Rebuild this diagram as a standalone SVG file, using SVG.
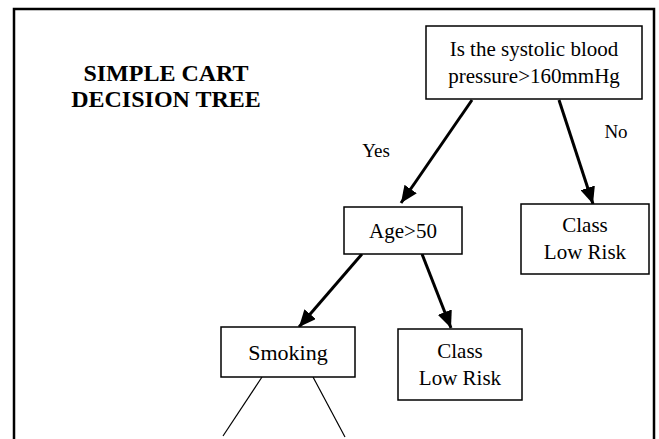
<svg xmlns="http://www.w3.org/2000/svg" width="659" height="439" viewBox="0 0 659 439">
<style>
.box{fill:#fff;stroke:#000;stroke-width:1.5}
.t{font-family:"Liberation Serif","Times New Roman",serif;font-size:21px;fill:#000;text-anchor:middle}
.lbl{font-family:"Liberation Serif","Times New Roman",serif;font-size:19px;fill:#000;text-anchor:middle}
.title{font-family:"Liberation Serif","Times New Roman",serif;font-size:24px;font-weight:bold;fill:#000;text-anchor:middle}
.arr{stroke:#000;stroke-width:3;fill:none;marker-end:url(#ah)}
.thin{stroke:#000;stroke-width:1.2;fill:none}
</style>
<defs>
<marker id="ah" markerUnits="userSpaceOnUse" markerWidth="17" markerHeight="15" viewBox="0 0 17 15" refX="17" refY="7.5" orient="auto">
<path d="M0,0 L17,7.5 L0,15 Z" fill="#000"/>
</marker>
</defs>
<rect width="659" height="439" fill="#fff"/>
<path d="M14,439 L14,9 L654,9 L654,439" fill="none" stroke="#000" stroke-width="2.5"/>
<g id="title">
<text class="title" x="166" y="81">SIMPLE CART</text>
<text class="title" x="166" y="107">DECISION TREE</text>
</g>
<g id="connectors">
<line class="arr" x1="472" y1="100" x2="401" y2="203"/>
<line class="arr" x1="559" y1="100" x2="593" y2="204"/>
<line class="arr" x1="362" y1="254" x2="299" y2="327"/>
<line class="arr" x1="422" y1="254" x2="451" y2="328"/>
<line class="thin" x1="262" y1="377" x2="223" y2="436"/>
<line class="thin" x1="313" y1="377" x2="345" y2="437"/>
<text class="lbl" x="376" y="157">Yes</text>
<text class="lbl" x="616" y="138">No</text>
</g>
<g id="root">
<rect class="box" x="426" y="26" width="216" height="73"/>
<text class="t" x="534" y="56">Is the systolic blood</text>
<text class="t" x="534" y="83">pressure&gt;160mmHg</text>
</g>
<g id="age">
<rect class="box" x="344" y="207" width="118" height="47"/>
<text class="t" x="403" y="238">Age&gt;50</text>
</g>
<g id="lowrisk1">
<rect class="box" x="521" y="204" width="128" height="70"/>
<text class="t" x="585" y="232">Class</text>
<text class="t" x="585" y="259">Low Risk</text>
</g>
<g id="smoking">
<rect class="box" x="221" y="327" width="134" height="50"/>
<text class="t" x="288" y="360" style="font-size:22px">Smoking</text>
</g>
<g id="lowrisk2">
<rect class="box" x="398" y="329" width="124" height="71"/>
<text class="t" x="460" y="358">Class</text>
<text class="t" x="460" y="385">Low Risk</text>
</g>
</svg>
